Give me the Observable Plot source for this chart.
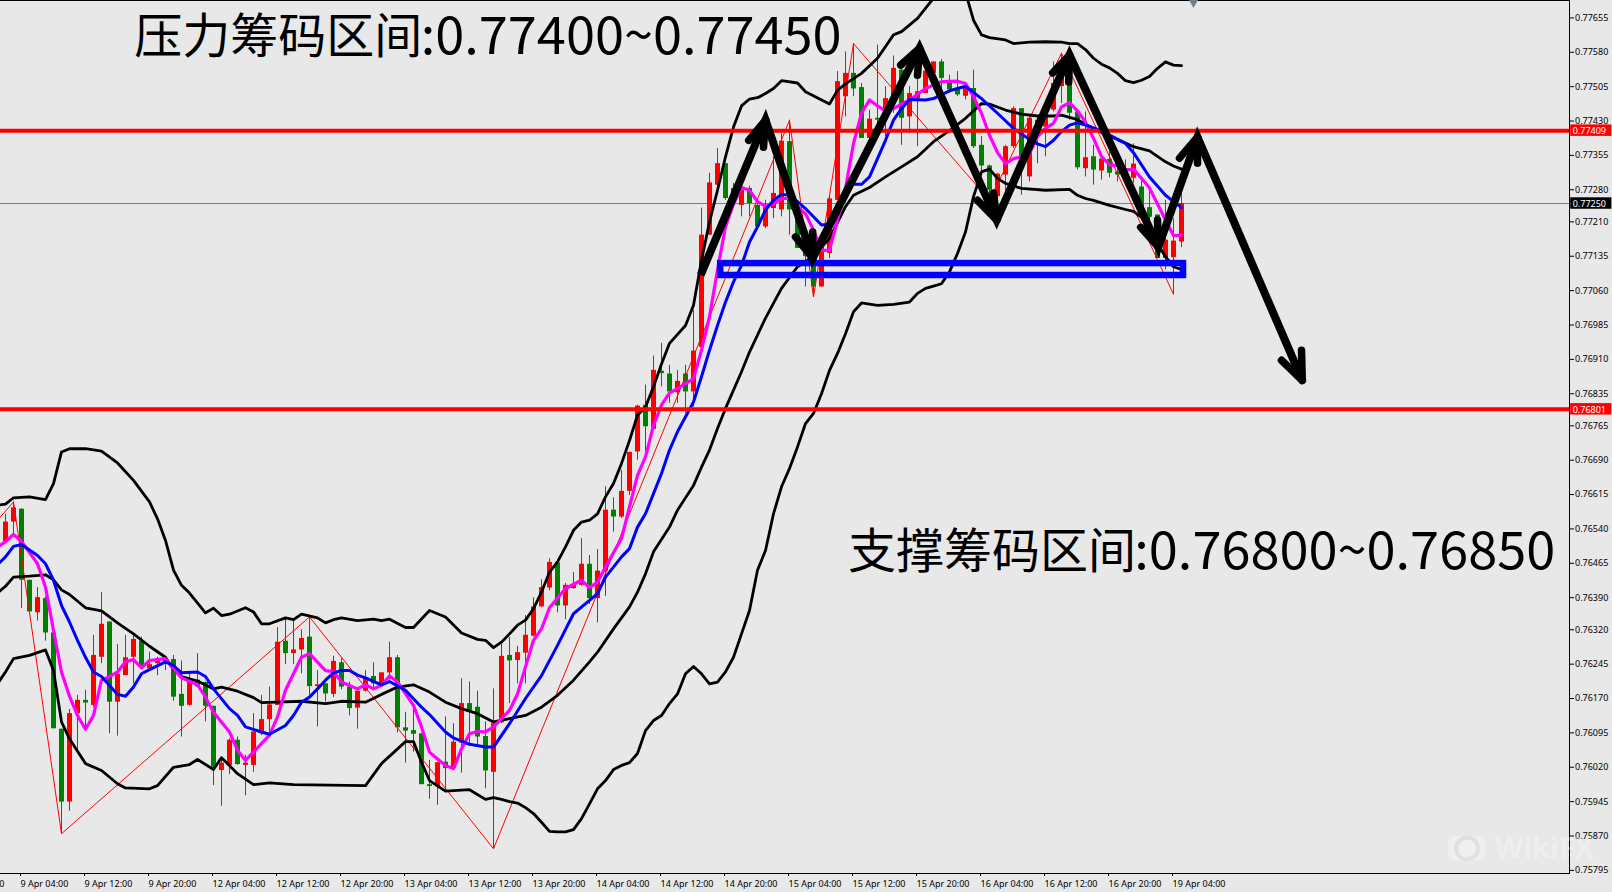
<!DOCTYPE html>
<html><head><meta charset="utf-8">
<style>html,body{margin:0;padding:0;background:#e8e8e8}svg{display:block}</style>
<script src="https://cdn.jsdelivr.net/npm/d3@7"></script>
<script src="https://cdn.jsdelivr.net/npm/@observablehq/plot@0.6"></script>
</head><body><div id="chart"></div>
<script>
// All prices in points (1 point = 0.00001)
const open=[76512,76555,76583,76428,76357,76388,76313,76103,75944,76137,
76166,76155,76260,76337,76162,76220,76260,76295,76235,76246,
76246,76255,76179,76155,76210,76205,76153,76013,76024,76079,
76024,76024,76093,76124,76155,76295,76268,76276,76304,76196,
76202,76179,76248,76195,76149,76186,76218,76202,76226,76259,
76106,76100,76093,75982,75977,76031,76017,76073,76159,76151,
76087,76009,76117,76264,76253,76269,76306,76370,76411,76466,
76372,76410,76417,76463,76388,76448,76581,76566,76622,76708,
76810,76757,76884,76878,76837,76878,76839,76936,77181,77290,
77337,77283,77246,77283,77246,77199,77239,77236,77385,77243,
77155,77119,77068,77141,77257,77483,77534,77503,77392,77436,
77436,77476,77541,77439,77479,77490,77534,77559,77512,77501,
77484,77501,77377,77332,77265,77312,77374,77457,77308,77432,
77417,77454,77505,77512,77450,77326,77352,77321,77346,77319,
77326,77305,77286,77241,77225,77130,77132,77166];
const close=[76555,76586,76428,76359,76390,76313,76104,75944,76137,76166,
76160,76264,76332,76162,76223,76259,76299,76242,76244,76257,
76257,76173,76153,76206,76195,76153,76020,76029,76079,76026,
76029,76097,76124,76156,76293,76268,76276,76301,76196,76200,
76180,76251,76195,76148,76186,76215,76202,76226,76259,76106,
76099,76092,75982,75978,76030,76017,76075,76159,76144,76086,
76012,76115,76262,76252,76270,76308,76370,76412,76467,76372,
76417,76417,76463,76388,76448,76581,76566,76622,76707,76808,
76763,76886,76879,76839,76862,76839,76928,77181,77295,77337,
77261,77265,77279,77250,77199,77241,77272,77386,77236,77152,
77134,77068,77155,77260,77516,77534,77500,77392,77434,77432,
77479,77545,77436,77490,77494,77539,77559,77523,77498,77487,
77505,77374,77332,77279,77314,77374,77457,77345,77436,77403,
77439,77512,77523,77447,77328,77350,77323,77347,77316,77312,
77316,77336,77243,77220,77130,77170,77168,77250];
const high=[76572,76599,76584,76428,76412,76392,76313,76103,76146,76177,
76188,76308,76401,76337,76288,76308,76311,76304,76271,76260,
76260,76264,76252,76224,76268,76206,76153,76042,76082,76086,
76046,76137,76177,76195,76325,76344,76341,76320,76348,76231,
76202,76262,76257,76206,76191,76231,76248,76226,76293,76264,
76140,76151,76093,76035,76031,76130,76115,76213,76206,76186,
76119,76191,76288,76303,76284,76351,76390,76429,76475,76467,
76421,76445,76519,76482,76495,76632,76608,76668,76707,76810,
76854,76917,76945,76897,76886,76897,77017,77240,77316,77370,
77337,77294,77286,77288,77257,77257,77352,77403,77432,77257,
77163,77130,77166,77265,77538,77581,77599,77512,77454,77596,
77505,77572,77563,77505,77545,77545,77559,77564,77530,77538,
77506,77541,77396,77334,77316,77377,77461,77457,77439,77439,
77461,77559,77578,77556,77454,77450,77377,77348,77363,77345,
77345,77380,77308,77279,77225,77257,77217,77276];
const low=[76508,76530,76366,76359,76339,76295,76104,75875,75924,76049,
76100,76151,76246,76093,76088,76220,76202,76239,76231,76220,
76231,76164,76086,76153,76195,76119,75980,75935,76004,76024,
75958,76009,76089,76093,76155,76244,76244,76224,76177,76108,
76162,76172,76189,76132,76103,76184,76191,76199,76210,76095,
76029,76053,75982,75950,75937,75969,76013,76007,76068,76068,
75973,75842,76115,76159,76202,76202,76304,76368,76405,76357,
76342,76408,76415,76375,76335,76393,76533,76563,76613,76690,
76708,76755,76850,76814,76814,76792,76806,76919,77181,77290,
77257,77250,77221,77221,77199,77195,77217,77221,77181,77152,
77068,77046,77067,77130,77257,77439,77483,77392,77388,77403,
77396,77447,77377,77403,77374,77490,77498,77483,77490,77483,
77476,77370,77316,77257,77250,77265,77370,77268,77297,77337,
77352,77450,77468,77432,77323,77308,77290,77301,77306,77297,
77312,77294,77228,77214,77130,77105,77052,77154];

const upperBars=[-1,0,1,3,5,6,7,8,10,12,14,16,18,19,20,21,22,23,25,26,27,28,30,31,32,33,35,36,37,39,40,41,42,44,46,47,48,50,51,53,55,57,59,60,61,62,63,64,65,66,67,68,69,70,71,72,73,74,75,76,77,78,79,80,81,82,83,85,86,87,88,89,90,91,92,93,94,95,96,97,99,100,103,104,105,107,109,111,112,114,116,117,118,119,120,121,122,123,125,126,128,130,132,133,134,135,136,137,138,139,140,141,142,143,144,145,146,147];
const upperVals=[76592,76594,76608,76610,76604,76639,76708,76715,76715,76710,76684,76646,76599,76562,76515,76450,76417,76400,76357,76367,76351,76354,76368,76359,76333,76333,76346,76342,76354,76346,76335,76342,76346,76340,76343,76340,76343,76325,76325,76362,76348,76313,76299,76297,76281,76293,76311,76330,76341,76366,76402,76446,76468,76501,76537,76555,76559,76573,76610,76639,76683,76733,76788,76806,76850,76900,76945,76984,77028,77126,77210,77279,77352,77417,77463,77478,77481,77490,77501,77518,77513,77494,77467,77497,77511,77534,77567,77618,77625,77654,77698,77733,77748,77738,77711,77650,77618,77612,77607,77599,77602,77603,77602,77599,77599,77586,77567,77554,77546,77534,77518,77514,77519,77527,77545,77559,77552,77551];

const middleBars=[-1,0,1,3,5,6,7,8,10,12,14,16,18,20,21,22,24,26,27,29,31,32,34,37,40,42,45,47,49,51,53,55,57,59,61,63,65,67,69,71,73,74,76,78,79,80,81,83,84,86,87,88,89,90,91,92,93,95,97,99,101,103,105,106,108,110,112,114,116,118,120,122,123,125,127,129,131,132,134,135,136,137,139,141,143,144,145,146,147];
const middleVals=[76400,76415,76435,76437,76440,76429,76407,76397,76368,76361,76335,76311,76284,76260,76233,76218,76208,76191,76195,76186,76172,76161,76162,76164,76159,76164,76162,76179,76195,76200,76184,76162,76148,76137,76119,76126,76133,76151,76177,76210,76250,76271,76322,76370,76402,76442,76490,76544,76581,76635,76675,76712,76759,76803,76843,76883,76926,77000,77065,77112,77135,77174,77243,77268,77285,77308,77330,77352,77385,77409,77436,77468,77467,77454,77445,77441,77441,77443,77433,77423,77414,77405,77390,77374,77365,77353,77341,77332,77325];

const lowerBars=[-1,0,1,3,5,6,7,8,10,12,14,15,18,19,21,23,24,26,27,29,31,33,36,45,47,50,51,52,53,55,58,60,61,62,63,64,65,66,67,68,69,70,71,72,73,74,75,76,77,78,79,80,81,82,83,84,85,86,87,88,89,90,91,92,93,94,95,96,97,98,99,100,101,102,103,104,105,106,107,109,111,113,114,115,116,117,118,119,120,121,122,123,124,125,127,130,133,134,135,136,138,140,141,142,143,144,145,146,147];
const lowerVals=[76202,76228,76257,76264,76276,76231,76119,76082,76028,76013,75984,75975,75973,75980,76020,76026,76037,76015,76041,76006,75982,75986,75982,75980,76028,76076,76076,76031,75991,75968,75971,75950,75954,75950,75945,75942,75932,75919,75900,75880,75879,75879,75884,75908,75940,75973,75991,76015,76024,76030,76050,76100,76122,76133,76159,76180,76224,76240,76224,76202,76206,76228,76260,76311,76362,76450,76493,76573,76632,76672,76719,76770,76792,76835,76886,76923,76966,77014,77033,77028,77030,77035,77054,77065,77070,77075,77101,77141,77188,77265,77319,77325,77305,77294,77283,77279,77281,77268,77261,77257,77246,77237,77233,77220,77199,77163,77134,77112,77106];

const magentaBars=[-1,0,1,2,4,5,6,7,8,9,10,11,12,13,14,15,16,17,18,20,21,22,24,25,26,28,29,30,33,34,35,37,38,40,41,42,44,45,46,47,48,49,51,52,53,54,55,56,57,58,59,60,61,63,64,65,66,67,68,70,72,73,74,75,77,78,79,80,81,82,83,84,86,87,88,89,90,91,92,93,94,95,96,97,98,99,100,101,102,103,104,105,106,107,108,109,110,111,112,113,115,117,119,120,121,122,123,124,125,126,127,128,129,130,131,132,133,134,135,136,137,138,139,140,141,142,143,144,145,146,147];
const magentaVals=[76500,76512,76528,76513,76464,76413,76319,76228,76175,76133,76103,76133,76210,76218,76228,76250,76255,76237,76253,76257,76235,76215,76200,76173,76140,76097,76057,76035,76090,76130,76188,76260,76268,76231,76229,76206,76191,76200,76191,76199,76219,76206,76155,76108,76053,76038,76024,76017,76060,76093,76098,76097,76108,76144,76180,76239,76297,76322,76368,76410,76428,76412,76424,76457,76519,76588,76657,76697,76766,76810,76837,76846,76868,76930,77003,77105,77199,77249,77285,77279,77254,77244,77250,77261,77261,77243,77228,77192,77148,77148,77214,77283,77381,77447,77476,77463,77452,77457,77467,77476,77501,77516,77517,77512,77483,77447,77399,77361,77337,77348,77352,77359,77396,77414,77425,77461,77470,77452,77428,77392,77353,77334,77332,77323,77325,77305,77284,77249,77214,77180,77181];

const blueBars=[-1,0,1,2,4,5,6,7,8,9,10,11,12,14,15,16,17,18,20,21,22,24,25,26,28,29,30,32,33,35,36,37,38,39,40,41,42,43,44,45,47,48,50,52,53,55,56,58,60,61,63,65,67,69,71,73,74,75,77,78,79,80,81,82,83,84,86,87,88,89,90,91,92,93,94,95,96,97,98,99,100,101,102,103,104,105,106,107,108,109,110,111,112,113,115,116,118,120,122,124,126,128,129,130,131,132,133,134,135,137,139,140,141,143,145,147];
const blueVals=[76462,76479,76502,76506,76482,76464,76428,76373,76337,76297,76260,76228,76218,76179,76175,76195,76224,76233,76250,76242,76226,76228,76218,76191,76148,76133,76108,76097,76092,76111,76133,76162,76173,76191,76210,76226,76231,76231,76221,76215,76200,76207,76188,76151,76135,76097,76084,76070,76064,76064,76115,76170,76220,76286,76355,76384,76399,76435,76479,76497,76544,76573,76617,76661,76712,76752,76817,76872,76930,76984,77035,77079,77115,77166,77199,77236,77257,77270,77268,77254,77239,77221,77203,77205,77236,77279,77292,77292,77308,77348,77388,77432,77457,77477,77476,77479,77496,77506,77479,77447,77414,77390,77380,77374,77388,77407,77421,77426,77421,77409,77390,77381,77361,77308,77268,77241];

const zigzagBars=[-1,1,7,38,61,98,101,106,123,132,146];
const zigzagVals=[76559,76599,75875,76348,75842,77432,77046,77599,77257,77578,77052];

const tickBars=[-6,2,10,18,26,34,42,50,58,66,74,82,90,98,106,114,122,130,138,146];
const tickLabels=["8 Apr 20:00","9 Apr 04:00","9 Apr 12:00","9 Apr 20:00","12 Apr 04:00","12 Apr 12:00","12 Apr 20:00","13 Apr 04:00","13 Apr 12:00","13 Apr 20:00","14 Apr 04:00","14 Apr 12:00","14 Apr 20:00","15 Apr 04:00","15 Apr 12:00","15 Apr 20:00","16 Apr 04:00","16 Apr 12:00","16 Apr 20:00","19 Apr 04:00"];
const priceTicks=[0.77655,0.77580,0.77505,0.77430,0.77355,0.77280,0.77210,0.77135,0.77060,0.76985,0.76910,0.76835,0.76765,0.76690,0.76615,0.76540,0.76465,0.76390,0.76320,0.76245,0.76170,0.76095,0.76020,0.75945,0.75870,0.75795];

const redLevels=[0.77409,0.76801];
const lastPrice=0.77250;
const zone={bar1:89.4,bar2:147.25,top:0.77119,bottom:0.77093};
const arrowBars=[86.9,95,100.9,114.25,123.9,133,144.1,149,162.1];
const arrowVals=[77094,77432,77131,77589,77214,77574,77155,77395,76864];
// Each arrow head: the tip index in the path above, then two barb ends (bar, points)
const barbTips=[1,2,3,4,5,6,7,8];
const barbA=[[92.9,77388],[98.75,77177],[111.9,77552],[121.5,77257],[130.9,77535],[141.9,77198],[146.75,77349],[159.5,76908]];
const barbB=[[94.75,77373],[100.9,77188],[114,77530],[123.5,77273],[132.9,77515],[144,77214],[149,77338],[162,76930]];

const pr=v=>v/1e5;
const bars=open.map((o,i)=>({i,o:pr(o),c:pr(close[i]),h:pr(high[i]),l:pr(low[i]),up:close[i]>=o}));
const series=(b,v)=>b.map((x,i)=>({x,y:pr(v[i])}));
const barbRows=barbTips.flatMap((t,n)=>[barbA[n],barbB[n]].flatMap((e,m)=>[
  {g:n*2+m,x:arrowBars[t],y:pr(arrowVals[t])},{g:n*2+m,x:e[0],y:pr(e[1])}]));
const GREEN="#008000",RED="#ff0000",BG="#e8e8e8";
const CJK='"Noto Sans CJK SC",sans-serif';

const chart=Plot.plot({
  width:1612,height:892,
  marginLeft:0,marginRight:43,marginTop:0,marginBottom:19,
  style:{background:BG,fontFamily:'"Noto Sans",sans-serif',fontSize:"9px",color:"#000"},
  x:{type:"linear",domain:[-0.625,195.5],range:[0,1569]},
  y:{type:"linear",domain:[0.757882,0.77693],range:[873,0]},
  marks:[
    Plot.ruleY([lastPrice],{stroke:"#708090",strokeWidth:1}),
    Plot.ruleX(bars,{x:"i",y1:"l",y2:"h",stroke:d=>d.up?RED:GREEN,strokeWidth:1}),
    Plot.ruleX(bars,{x:"i",y1:"o",y2:"c",stroke:d=>d.up?RED:GREEN,strokeWidth:5}),
    Plot.line(series(zigzagBars,zigzagVals),{x:"x",y:"y",stroke:RED,strokeWidth:1}),
    Plot.line(series(upperBars,upperVals),{x:"x",y:"y",stroke:"#000",strokeWidth:2.8}),
    Plot.line(series(middleBars,middleVals),{x:"x",y:"y",stroke:"#000",strokeWidth:2.8}),
    Plot.line(series(lowerBars,lowerVals),{x:"x",y:"y",stroke:"#000",strokeWidth:2.8}),
    Plot.line(series(magentaBars,magentaVals),{x:"x",y:"y",stroke:"#ff00ff",strokeWidth:3.2}),
    Plot.line(series(blueBars,blueVals),{x:"x",y:"y",stroke:"#0000ff",strokeWidth:3}),
    Plot.ruleY(redLevels,{stroke:RED,strokeWidth:4}),
    Plot.rect([zone],{x1:"bar1",x2:"bar2",y1:"top",y2:"bottom",fill:"none",stroke:"#0000ff",strokeWidth:6.5}),
    Plot.line(barbRows,{x:"x",y:"y",z:"g",stroke:"#000",strokeWidth:7.5,strokeLinecap:"round"}),
    Plot.line(series(arrowBars,arrowVals),{x:"x",y:"y",stroke:"#000",strokeWidth:8,strokeLinejoin:"miter",strokeMiterlimit:12,strokeLinecap:"butt"}),
    Plot.frame({anchor:"top",stroke:"#000"}),
    Plot.frame({anchor:"right",stroke:"#000"}),
    Plot.frame({anchor:"bottom",stroke:"#000"}),
    Plot.axisY({anchor:"right",ticks:priceTicks,tickSize:4,tickPadding:1.5,tickFormat:d=>d.toFixed(5),label:null,fill:"#000",textStroke:"none"}),
    Plot.axisX({anchor:"bottom",ticks:tickBars,tickSize:3,tickPadding:3.8,dx:-1,textAnchor:"start",tickFormat:d=>tickLabels[tickBars.indexOf(d)],label:null,fill:"#000"}),
    Plot.rect(redLevels,{x1:195.65,x2:200.8,y1:d=>d-0.000125,y2:d=>d+0.000125,fill:RED}),
    Plot.rect([lastPrice],{x1:195.65,x2:200.8,y1:d=>d-0.000125,y2:d=>d+0.000125,fill:"#000"}),
    Plot.text([...redLevels,lastPrice],{x:195.9,y:d=>d,dy:0.5,text:d=>d.toFixed(5),textAnchor:"start",fill:"#fff",fontSize:9}),
    Plot.dot([lastPrice],{x:148.5,y:()=>0.77689,symbol:"triangle",rotate:180,r:3.6,fill:"#708090"}),
    Plot.text(["压力筹码区间"],{x:16.1,y:0.77612,textAnchor:"start",fontFamily:CJK,fontSize:48,fill:"#000"}),
    Plot.text([":0.77400~0.77450"],{x:51.9,y:0.77612,textAnchor:"start",fontFamily:CJK,fontSize:52.3,fill:"#000"}),
    Plot.text(["支撑筹码区间"],{x:105.3,y:0.76489,textAnchor:"start",fontFamily:CJK,fontSize:48,fill:"#000"}),
    Plot.text([":0.76800~0.76850"],{x:141.1,y:0.76489,textAnchor:"start",fontFamily:CJK,fontSize:52.3,fill:"#000"}),
    Plot.rect([0],{x1:180.4,x2:185,y1:0.75816,y2:0.75869,fill:"#fff",fillOpacity:0.3,rx:6}),
    Plot.dot([0],{x:182.7,y:0.75843,r:11,stroke:"#dcdcdc",strokeWidth:4,fill:"none",strokeOpacity:0.8}),
    Plot.text(["WikiFX"],{x:186.2,y:0.75843,textAnchor:"start",fontFamily:'"Open Sans",sans-serif',fontWeight:700,fontSize:29,fill:"#fff",fillOpacity:0.3})
  ]
});
document.getElementById("chart").appendChild(chart);
</script></body></html>
